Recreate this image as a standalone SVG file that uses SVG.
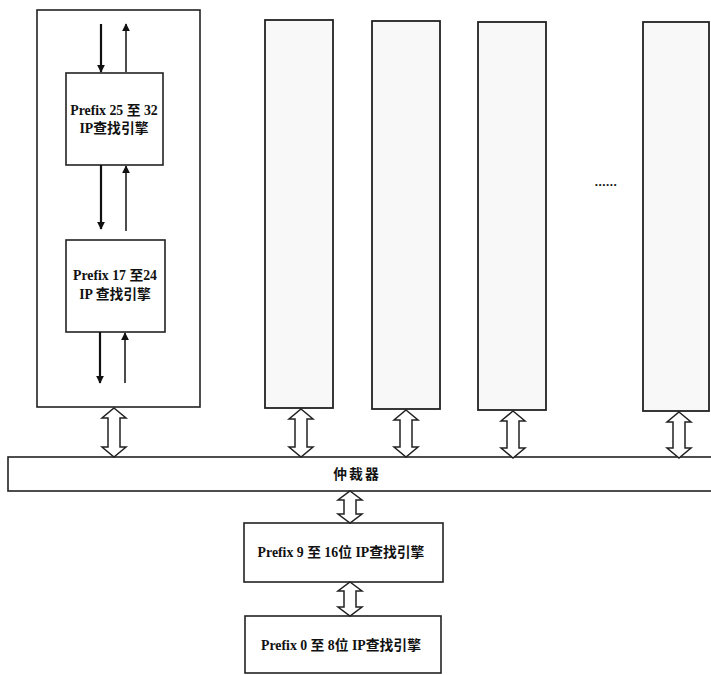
<svg xmlns="http://www.w3.org/2000/svg" width="711" height="675" viewBox="0 0 711 675">
<style>
.box{fill:#fff;stroke:#222;stroke-width:1.6}
.col{fill:#f8f8f8;stroke:#222;stroke-width:1.8}
.dbl{fill:#fff;stroke:#222;stroke-width:1.5;stroke-linejoin:miter}
.ln{stroke:#111;fill:none}
.t{font-family:"Liberation Serif","Noto Sans CJK SC",serif;font-size:13.8px;font-weight:bold;fill:#111;text-anchor:middle}
</style>
<defs>
<marker id="ah" viewBox="0 0 10 10" refX="9" refY="5" markerWidth="8" markerHeight="10" markerUnits="userSpaceOnUse" orient="auto"><path d="M0,0 L10,5 L0,10 Z" fill="#111"/></marker>
</defs>
<rect width="711" height="675" fill="#fff"/>
<g id="outer"><rect class="box" x="37" y="10" width="163" height="397"/></g>
<g id="col1"><rect class="col" x="265" y="20" width="68" height="388"/></g>
<g id="col2"><rect class="col" x="372" y="21" width="68" height="388"/></g>
<g id="col3"><rect class="col" x="478" y="22" width="68" height="388"/></g>
<g id="col4"><rect class="col" x="643" y="22" width="66" height="389" fill="#fbfbfb"/></g>
<g id="dots"><text x="606" y="186" class="t" style="font-size:13px;letter-spacing:0.5px">......</text></g>
<g id="eng25"><rect class="box" x="66" y="73" width="97" height="92"/>
<text class="t" x="114" y="115">Prefix 25 至 32</text><text class="t" x="114" y="133">IP查找引擎</text></g>
<g id="eng17"><rect class="box" x="66" y="240" width="99" height="92"/>
<text class="t" x="115" y="280">Prefix 17 至24</text><text class="t" x="115" y="299">IP 查找引擎</text></g>
<g id="bus"><rect class="box" x="8" y="457" width="705" height="34"/>
<text class="t" x="357" y="479" style="letter-spacing:2px">仲裁器</text></g>
<g id="eng9"><rect class="box" x="244" y="523" width="199" height="59"/>
<text class="t" x="341" y="557">Prefix 9 至 16位 IP查找引擎</text></g>
<g id="eng0"><rect class="box" x="245" y="616" width="196" height="57"/>
<text class="t" x="341" y="650">Prefix 0 至 8位 IP查找引擎</text></g>
<g id="connectors">
<line class="ln" stroke-width="2.2" x1="101" y1="24" x2="101" y2="72" marker-end="url(#ah)"/>
<line class="ln" stroke-width="1.5" x1="126" y1="72" x2="126" y2="24" marker-end="url(#ah)"/>
<line class="ln" stroke-width="2.2" x1="101" y1="165" x2="101" y2="229" marker-end="url(#ah)"/>
<line class="ln" stroke-width="1.5" x1="126" y1="231" x2="126" y2="166" marker-end="url(#ah)"/>
<line class="ln" stroke-width="2.2" x1="100" y1="332" x2="100" y2="383" marker-end="url(#ah)"/>
<line class="ln" stroke-width="1.5" x1="125" y1="383" x2="125" y2="333" marker-end="url(#ah)"/>
<path class="dbl" d="M114,408 L126,418 L120,418 L120,447 L126,447 L114,457 L102,447 L108,447 L108,418 L102,418 Z"/>
<path class="dbl" d="M301,409 L313,419 L307,419 L307,447 L313,447 L301,457 L289,447 L295,447 L295,419 L289,419 Z"/>
<path class="dbl" d="M406,410 L418,420 L412,420 L412,447 L418,447 L406,457 L394,447 L400,447 L400,420 L394,420 Z"/>
<path class="dbl" d="M513,411 L525,421 L519,421 L519,448 L525,448 L513,458 L501,448 L507,448 L507,421 L501,421 Z"/>
<path class="dbl" d="M679,412 L691,422 L685,422 L685,448 L691,448 L679,458 L667,448 L673,448 L673,422 L667,422 Z"/>
<path class="dbl" d="M350,491 L362,500 L356,500 L356,514 L362,514 L350,523 L338,514 L344,514 L344,500 L338,500 Z"/>
<path class="dbl" d="M350,582 L362,591 L356,591 L356,607 L362,607 L350,616 L338,607 L344,607 L344,591 L338,591 Z"/>
</g>
</svg>
